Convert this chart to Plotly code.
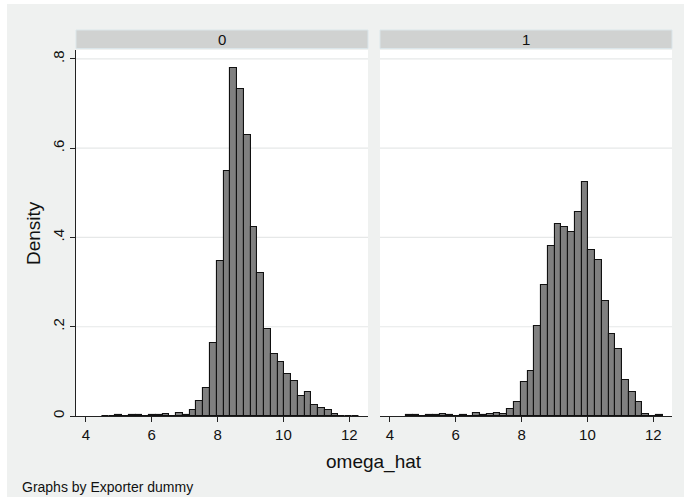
import plotly.graph_objects as go

# Common histogram bin edges (omega_hat)
bin_edges = [4.486, 4.691, 4.897, 5.102, 5.307, 5.513, 5.718, 5.923, 6.128, 6.334,
             6.539, 6.744, 6.950, 7.155, 7.360, 7.566, 7.771, 7.976, 8.181, 8.387,
             8.592, 8.797, 9.003, 9.208, 9.413, 9.619, 9.824, 10.029, 10.234, 10.440,
             10.645, 10.850, 11.056, 11.261, 11.466, 11.672, 11.877, 12.082, 12.287]

# Density per bin, Exporter dummy = 0
density_0 = [0, 0, 0.002, 0, 0.002, 0.002, 0, 0.002, 0.002, 0.004,
             0, 0.006, 0.003, 0.013, 0.034, 0.062, 0.164, 0.347, 0.55, 0.78,
             0.732, 0.63, 0.424, 0.32, 0.196, 0.14, 0.12, 0.093, 0.079, 0.045,
             0.053, 0.025, 0.019, 0.013, 0.0045, 0, 0, 0]

# Density per bin, Exporter dummy = 1
density_1 = [0.0015, 0.0015, 0, 0.0015, 0.0015, 0.004, 0.0015, 0, 0.002, 0,
             0.006, 0.002, 0.004, 0.007, 0.004, 0.016, 0.031, 0.077, 0.1, 0.202,
             0.293, 0.382, 0.43, 0.424, 0.412, 0.456, 0.524, 0.373, 0.35, 0.257,
             0.183, 0.15, 0.08, 0.054, 0.031, 0.0045, 0, 0.002]

panel_labels = ["0", "1"]
x_ticks = [4, 6, 8, 10, 12]
y_ticks = [0, 0.2, 0.4, 0.6, 0.8]
y_tick_text = ["0", ".2", ".4", ".6", ".8"]

centers = [(a + b) / 2 for a, b in zip(bin_edges[:-1], bin_edges[1:])]
widths = [b - a for a, b in zip(bin_edges[:-1], bin_edges[1:])]

FONT = "Liberation Sans, Arial, Helvetica, sans-serif"
W, H = 684, 501
ML, MR, MT, MB = 76, 12, 50, 85
PW = W - ML - MR
PH = H - MT - MB

def px_x(px):
    return (px - ML) / PW

def px_y(py):
    return (H - MB - py) / PH

fig = go.Figure()
for i, dens in enumerate([density_0, density_1]):
    fig.add_trace(go.Bar(
        x=centers, y=dens, width=widths,
        marker=dict(color="#808080", line=dict(color="#111111", width=1.1)),
        xaxis="x" if i == 0 else "x2", yaxis="y" if i == 0 else "y2",
        showlegend=False, hoverinfo="skip",
    ))

d0 = [0, (368 - ML) / PW]
d1 = [(380 - ML) / PW, 1]

axis_common = dict(range=[3.70, 12.57], tickvals=x_ticks, ticks="outside", ticklen=5,
                   tickcolor="#222222", showline=True, linecolor="#222222", linewidth=1,
                   showgrid=False, zeroline=False,
                   tickfont=dict(family=FONT, size=15, color="#111111"))

grid_y = [0.2, 0.4, 0.6, 0.8]
shapes = [
    dict(type="rect", xref="paper", yref="paper", layer="below",
         x0=px_x(7), x1=px_x(684), y0=px_y(497), y1=px_y(4),
         fillcolor="#eff1f0", line=dict(width=0)),
]
for d in (d0, d1):
    shapes.append(dict(type="rect", xref="paper", yref="paper", layer="below",
                       x0=d[0], x1=d[1], y0=0, y1=1,
                       fillcolor="white", line=dict(width=0)))
for xr, yr in (("x domain", "y"), ("x2 domain", "y2")):
    for g in grid_y:
        shapes.append(dict(type="line", xref=xr, yref=yr, layer="below",
                           x0=0, x1=1, y0=g, y1=g,
                           line=dict(color="#e6e8e8", width=1.2)))
for d in (d0, d1):
    shapes.append(dict(type="rect", xref="paper", yref="paper",
                       x0=d[0], x1=d[1], y0=px_y(48.5), y1=px_y(30),
                       fillcolor="#d0d2d1", line=dict(color="#dbe6ea", width=1)))

fig.update_layout(
    width=W, height=H,
    margin=dict(l=ML, r=MR, t=MT, b=MB),
    paper_bgcolor="white", plot_bgcolor="rgba(0,0,0,0)",
    bargap=0,
    xaxis=dict(domain=d0, anchor="y", **axis_common),
    xaxis2=dict(domain=d1, anchor="y2", **axis_common),
    yaxis=dict(range=[0, 0.82], tickvals=y_ticks, ticktext=y_tick_text, tickangle=-90,
               ticks="outside", ticklen=5, tickcolor="#222222",
               showline=True, linecolor="#222222", linewidth=1,
               showgrid=False, zeroline=False,
               tickfont=dict(family=FONT, size=15, color="#111111"), anchor="x"),
    yaxis2=dict(range=[0, 0.82], tickvals=y_ticks, showticklabels=False, ticks="",
                showline=False, showgrid=False, zeroline=False, anchor="x2"),
    shapes=shapes,
    annotations=[
        dict(text=panel_labels[0], xref="paper", yref="paper", x=sum(d0) / 2, y=px_y(39.5),
             showarrow=False, xanchor="center", yanchor="middle",
             font=dict(family=FONT, size=15, color="#111111")),
        dict(text=panel_labels[1], xref="paper", yref="paper", x=sum(d1) / 2, y=px_y(39.5),
             showarrow=False, xanchor="center", yanchor="middle",
             font=dict(family=FONT, size=15, color="#111111")),
        dict(text="Density", xref="paper", yref="paper", x=px_x(33), y=px_y(233),
             textangle=-90, showarrow=False, xanchor="center", yanchor="middle",
             font=dict(family=FONT, size=19, color="#111111")),
        dict(text="omega_hat", xref="paper", yref="paper", x=px_x(374), y=px_y(462),
             showarrow=False, xanchor="center", yanchor="middle",
             font=dict(family=FONT, size=19, color="#111111")),
        dict(text="Graphs by Exporter dummy", xref="paper", yref="paper", x=px_x(20), y=px_y(487),
             showarrow=False, xanchor="left", yanchor="middle",
             font=dict(family=FONT, size=14, color="#111111")),
    ],
)

fig.write_html("out.html", config={"displayModeBar": False},
               post_script="document.body.style.margin='0';document.body.style.padding='0';")
